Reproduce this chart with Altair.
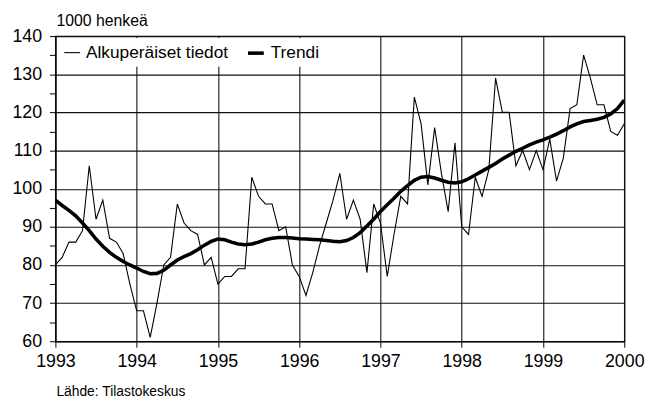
import altair as alt
import pandas as pd

# Monthly values, Jan 1993 .. Jan 2000 (1000 persons)
start_year = 1993
original = [80, 82, 86, 86, 89, 106, 92, 97, 87, 86, 83, 75,
            68, 68, 61, 70, 80, 82, 96, 91, 89, 88, 80, 82,
            75, 77, 77, 79, 79, 103, 98, 96, 96, 89, 90, 80,
            77, 72, 78, 85, 91, 97, 104, 92, 97, 92, 78, 96,
            91, 77, 88, 98, 96, 124, 117, 101, 116, 104, 94, 112,
            90, 88, 103, 98, 105, 129, 120, 120, 106, 110, 105, 110,
            105, 113, 102, 108, 121, 122, 135, 129, 122, 122, 115, 114,
            117]
trend = [97.0, 95.6, 94.3, 92.9, 91.0, 89.0, 86.8, 84.9, 83.3, 82.0, 80.9, 80.0,
         79.2, 78.3, 77.7, 77.8, 78.6, 80.0, 81.3, 82.2, 83.0, 84.0, 85.2, 86.2,
         86.8, 86.6, 86.0, 85.5, 85.3, 85.5, 86.0, 86.6, 87.0, 87.2, 87.2, 87.1,
         86.9, 86.8, 86.7, 86.6, 86.4, 86.2, 86.1, 86.4, 87.2, 88.5, 90.2, 92.0,
         94.0, 95.8, 97.5, 99.3, 100.8, 102.2, 103.0, 103.2, 102.8, 102.2, 101.7, 101.5,
         101.8, 102.6, 103.6, 104.6, 105.6, 106.6, 107.8, 108.8, 109.8, 110.6, 111.5, 112.2,
         112.8, 113.5, 114.3, 115.2, 116.2, 117.0, 117.6, 117.9, 118.2, 118.7, 119.6, 121.0,
         123.2]
series_names = ["Alkuperäiset tiedot", "Trendi"]
year_ticks = list(range(1993, 2001))
y_ticks = list(range(60, 141, 5))
unit_label = "1000 henkeä"
source_label = "Lähde: Tilastokeskus"

FONT = "Liberation Sans, Arial, Helvetica, sans-serif"

rows = []
for i, v in enumerate(original):
    rows.append({"year": start_year + i / 12, "value": v, "series": series_names[0]})
for i, v in enumerate(trend):
    rows.append({"year": start_year + i / 12, "value": v, "series": series_names[1]})
df = pd.DataFrame(rows)

lines = alt.Chart(df).mark_line(clip=True).encode(
    x=alt.X("year:Q",
            scale=alt.Scale(domain=[1993, 2000], nice=False, zero=False),
            axis=alt.Axis(values=year_ticks, format="d", title=None,
                          grid=True, gridColor="#111111", gridWidth=1.1,
                          tickSize=6, labelPadding=6, labelFontSize=18,
                          labelFont=FONT, labelColor="black",
                          labelFlush=False, labelOverlap=False, labelBound=False,
                          domainColor="black", tickColor="black")),
    y=alt.Y("value:Q",
            scale=alt.Scale(domain=[60, 140], nice=False, zero=False),
            axis=alt.Axis(values=y_ticks, title=None,
                          labelExpr="datum.value % 10 === 0 ? datum.label : ''",
                          grid=True, gridColor="#111111", gridWidth=1.1,
                          gridOpacity={"condition": {"test": "datum.value % 10 === 0", "value": 1}, "value": 0},
                          tickSize=6, labelPadding=8, labelFontSize=18,
                          labelFont=FONT, labelColor="black",
                          labelFlush=False, labelOverlap=False,
                          domainColor="black", tickColor="black")),
    color=alt.Color("series:N", scale=alt.Scale(domain=series_names, range=["black", "black"]),
                    legend=alt.Legend(title=None)),
    strokeWidth=alt.StrokeWidth("series:N", scale=alt.Scale(domain=series_names, range=[1.1, 3.6]),
                                legend=alt.Legend(title=None)),
    order=alt.Order("year:Q"),
)

unit_text = alt.Chart(pd.DataFrame({"t": [unit_label]})).mark_text(
    align="left", baseline="alphabetic", fontSize=16, font=FONT, color="black"
).encode(text="t:N", x=alt.value(1), y=alt.value(-10))

source_text = alt.Chart(pd.DataFrame({"t": [source_label]})).mark_text(
    align="left", baseline="alphabetic", fontSize=14, font=FONT, color="black"
).encode(text="t:N", x=alt.value(1), y=alt.value(364))

chart = alt.layer(lines, unit_text, source_text).properties(
    width=576, height=309,
    autosize=alt.AutoSizeParams(type="none"),
    padding={"left": 48, "top": 26, "right": 21, "bottom": 57},
).configure_view(
    stroke="black", strokeWidth=1.2
).configure_legend(
    orient="none", legendX=3, legendY=2, direction="horizontal",
    fillColor="white", padding=5, labelFont=FONT, labelFontSize=17.5,
    labelColor="black", symbolType="stroke", symbolSize=256,
    labelOffset=5, columnPadding=12, symbolStrokeColor="black"
)

chart.save("out.html", embed_options={"renderer": "svg", "actions": False})
